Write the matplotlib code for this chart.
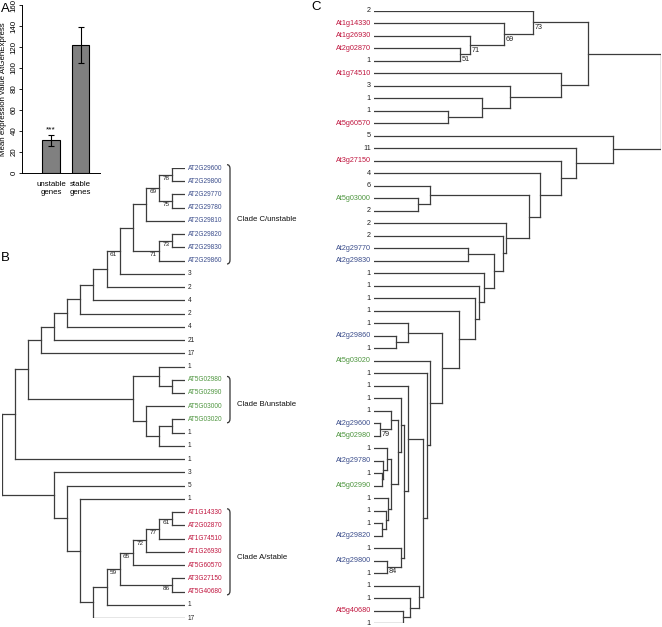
import matplotlib
matplotlib.use('Agg')
import matplotlib.pyplot as plt
from matplotlib.path import Path
from matplotlib.patches import PathPatch

# ---------------- data ----------------
bar_categories = ['unstable\ngenes', 'stable\ngenes']
bar_means = [31, 122]
bar_errors = [5, 17]
bar_yticks = [0, 20, 40, 60, 80, 100, 120, 140, 160]
bar_ylabel = 'Mean expression value AtGenExpress'
bar_signif = '***'

clade_a_stable = ['AT1G14330', 'AT2G02870', 'AT1G74510', 'AT1G26930',
                  'AT5G60570', 'AT3G27150', 'AT5G40680']
clade_b_unstable = ['AT5G02980', 'AT5G02990', 'AT5G03000', 'AT5G03020']
clade_c_unstable = ['AT2G29600', 'AT2G29800', 'AT2G29770', 'AT2G29780',
                    'AT2G29810', 'AT2G29820', 'AT2G29830', 'AT2G29860']
clade_names = ['Clade C/unstable', 'Clade B/unstable', 'Clade A/stable']

# Newick trees; internal node label = "support@height"
tree_b_newick = (
    "((((((((((((((AT2G29600,AT2G29800)78@1,(AT2G29770,AT2G29780)75@1)69@2,"
    "AT2G29810)@3,((AT2G29820,AT2G29830)73@1,AT2G29860)71@2)@4,3)61@5,2)@6,"
    "4)@7,2)@8,4)@9,21)@10,17)@11,"
    "((1,(AT5G02980,AT5G02990)@1)@2,(AT5G03000,((AT5G03020,1)@1,1)@2)@3)@4)@12,"
    "1)@13,"
    "(3,(5,(1,(((((((AT1G14330,AT2G02870)61@1,AT1G74510)77@2,AT1G26930)72@3,"
    "AT5G60570)65@4,(AT3G27150,AT5G40680)86@1)59@5,1)@6,17)@7)@8)@9)@10)@14;"
)

tree_c_newick = (
    "(((2,(At1g14330,(At1g26930,(At2g02870,1)51@86)71@96)69@130)73@159,"
    "(At1g74510,(3,(1,(1,At5g60570)@74)@108)@136)@187)@214,"
    "(5,(11,(At3g27150,(4,((6,(At5g03000,2)@44)@56,"
    "(2,(2,((At2g29770,At2g29830)@94,"
    "(1,(1,(1,(1,((1,(At2g29860,1)@22)@34,"
    "(At5g03020,(1,((1,"
    "((1,((1,(At2g29600,At5g02980)79@6)@17,"
    "((1,(At2g29780,(1,At5g02990)@8)@9)@13,(1,(1,(1,At2g29820)@8)@12)@14)@17)@24)@27,"
    "(1,(At2g29800,1)84@13)@27)@30"
    ")@34,(1,(1,(At5g40680,1)@29)@36)@45)@49)@53)@56)@68)@85)@101)@105)@110"
    ")@120)@129)@132)@155)@166)@187)@202)@239)@287;"
)

# ---------------- helpers ----------------
W, H = 662, 627
plt.rcParams['font.family'] = ['Liberation Sans', 'DejaVu Sans']
fig = plt.figure(figsize=(W / 100, H / 100), dpi=100)

PT = 0.72  # points per pixel at 100 dpi
LINE = '#3c3c3c'
TREE_LW = 0.9
RED, GREEN, BLUE = '#c0163f', '#4f9640', '#3c4e8c'


def px_axes(x0, y0, x1, y1):
    ax = fig.add_axes([x0 / W, 1 - y1 / H, (x1 - x0) / W, (y1 - y0) / H])
    return ax


def parse_newick(s):
    pos = [0]

    def read_label():
        st = pos[0]
        while pos[0] < len(s) and s[pos[0]] not in ',();':
            pos[0] += 1
        return s[st:pos[0]].strip()

    def node():
        if s[pos[0]] == '(':
            pos[0] += 1
            kids = [node()]
            while s[pos[0]] == ',':
                pos[0] += 1
                kids.append(node())
            pos[0] += 1  # ')'
            sup, h = read_label().split('@')
            return {'kids': kids, 'support': sup, 'h': float(h)}
        return {'name': read_label(), 'h': 0.0}

    return node()


def layout(node, leaves):
    if 'name' in node:
        node['y'] = len(leaves)
        leaves.append(node)
        return
    for k in node['kids']:
        layout(k, leaves)
    node['y'] = (node['kids'][0]['y'] + node['kids'][-1]['y']) / 2


def internal_nodes(node, out):
    if 'kids' in node:
        out.append(node)
        for k in node['kids']:
            internal_nodes(k, out)
    return out


def draw_tree(ax, root):
    for n in internal_nodes(root, []):
        ys = [k['y'] for k in n['kids']]
        ax.plot([n['h'], n['h']], [min(ys), max(ys)], color=LINE, lw=TREE_LW,
                solid_capstyle='projecting')
        for k in n['kids']:
            ax.plot([n['h'], k['h']], [k['y'], k['y']], color=LINE,
                    lw=TREE_LW, solid_capstyle='projecting')


def leaf_color(name):
    u = name.upper()
    if u in clade_a_stable:
        return RED
    if u in clade_b_unstable:
        return GREEN
    if u in clade_c_unstable:
        return BLUE
    return '#222222'


# ---------------- panel A ----------------
axA = px_axes(22, 5, 100, 173)
xpos = list(range(len(bar_means)))
axA.bar(xpos, bar_means, width=0.6, color='#808080', edgecolor='black',
        linewidth=0.8)
axA.errorbar(xpos, bar_means, yerr=bar_errors, fmt='none', ecolor='black',
             elinewidth=0.8, capsize=2.5, capthick=0.8)
axA.set_xlim(-0.983, 1.661)
axA.set_ylim(0, 160)
axA.set_yticks(bar_yticks)
axA.set_yticklabels([str(v) for v in bar_yticks], rotation=90, va='center',
                    fontsize=5.7)
axA.set_xticks(xpos)
axA.set_xticklabels(bar_categories, fontsize=5.7, linespacing=1.25)
axA.tick_params(axis='x', length=0, pad=5.5)
axA.tick_params(axis='y', length=2.5, width=0.6, pad=0.5)
for sp in ['top', 'right']:
    axA.spines[sp].set_visible(False)
for sp in ['left', 'bottom']:
    axA.spines[sp].set_linewidth(0.7)
axA.set_ylabel(bar_ylabel, fontsize=5.7, labelpad=2.5)
axA.text(xpos[0], bar_means[0] + bar_errors[0] + 2, bar_signif, ha='center',
         va='bottom', fontsize=6)

# ---------------- panel B ----------------
rootB = parse_newick(tree_b_newick)
leavesB = []
layout(rootB, leavesB)
axB = px_axes(2, 168, 185, 618)
axB.set_xlim(rootB['h'], 0)
axB.set_ylim(len(leavesB) - 1, 0)
axB.axis('off')
draw_tree(axB, rootB)
for lf in leavesB:
    axB.annotate(lf['name'], (0, lf['y']), xytext=(2.5 * PT, 0),
                 textcoords='offset points', ha='left', va='center',
                 fontsize=4.7, color=leaf_color(lf['name']),
                 annotation_clip=False)
for n in internal_nodes(rootB, []):
    if n['support']:
        axB.annotate(n['support'], (n['h'], n['y']),
                     xytext=(-2.5 * PT, -1 * PT), textcoords='offset points',
                     ha='right', va='top', fontsize=4.6, color='#222222',
                     annotation_clip=False)

kB = rootB['h'] / 183.0  # height units per pixel
names_B = [lf['name'] for lf in leavesB]
for members, label in zip([clade_c_unstable, clade_b_unstable, clade_a_stable],
                          clade_names):
    idx = [names_B.index(m) for m in members]
    y0, y1 = min(idx) - 0.25, max(idx) + 0.25
    xb = -45 * kB
    xh = -42 * kB
    verts = [(xh, y0), (xb, y0), (xb, y0 + 0.3), (xb, y1 - 0.3), (xb, y1),
             (xh, y1)]
    codes = [Path.MOVETO, Path.CURVE3, Path.CURVE3, Path.LINETO, Path.CURVE3,
             Path.CURVE3]
    axB.add_patch(PathPatch(Path(verts, codes), fill=False, edgecolor='#333333',
                            lw=0.9, clip_on=False))
    axB.text(-52 * kB, (min(idx) + max(idx)) / 2 + 0.4, label, ha='left',
             va='center', fontsize=5.6, color='#111111', clip_on=False)

# ---------------- panel C ----------------
rootC = parse_newick(tree_c_newick)
leavesC = []
layout(rootC, leavesC)
axC = px_axes(374, 10.7, 661, 623.2)
axC.set_xlim(0, rootC['h'])
axC.set_ylim(len(leavesC) - 1, 0)
axC.axis('off')
draw_tree(axC, rootC)
for lf in leavesC:
    axC.annotate(lf['name'], (0, lf['y']), xytext=(-3 * PT, 0),
                 textcoords='offset points', ha='right', va='center',
                 fontsize=5.2, color=leaf_color(lf['name']),
                 annotation_clip=False)
for n in internal_nodes(rootC, []):
    if n['support']:
        axC.annotate(n['support'], (n['h'], n['y']),
                     xytext=(2 * PT, -1.5 * PT), textcoords='offset points',
                     ha='left', va='top', fontsize=5.2, color='#222222',
                     annotation_clip=False)

# ---------------- panel letters ----------------
for letter, (x, y) in zip('ABC', [(1, 3), (1, 252), (311, 1)]):
    fig.text(x / W, 1 - y / H, letter, ha='left', va='top', fontsize=9.5)

fig.savefig('out.png', dpi=100)
